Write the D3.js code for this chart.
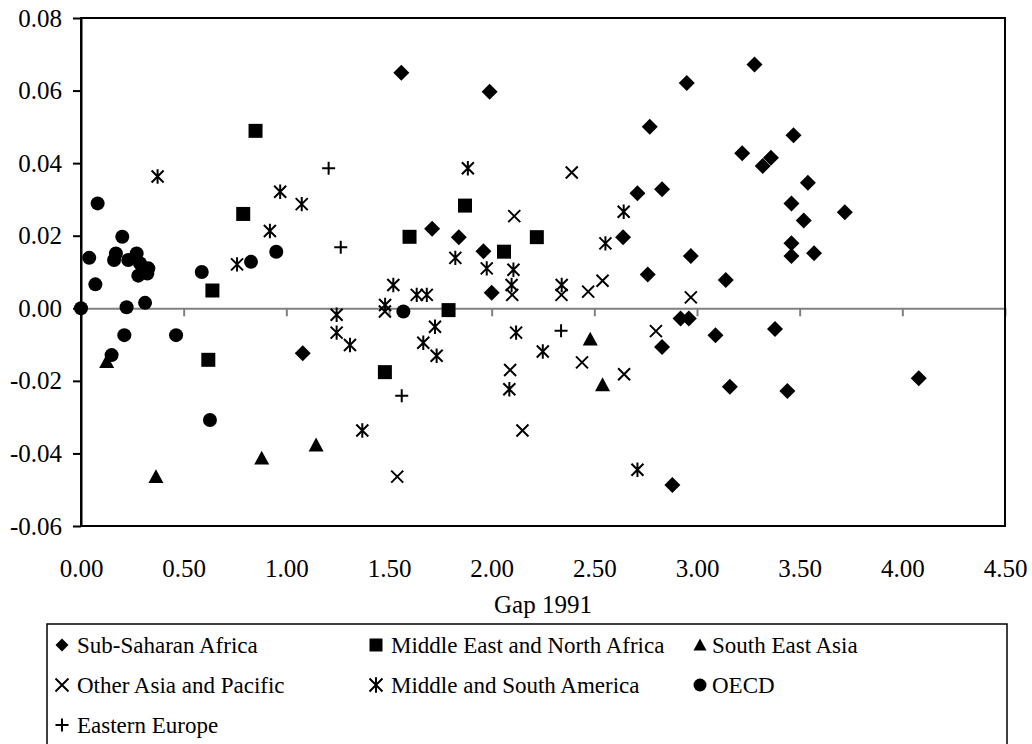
<!DOCTYPE html>
<html>
<head>
<meta charset="utf-8">
<script src="https://cdn.jsdelivr.net/npm/d3@7"></script>
<style>
  body { margin: 0; background: #fff; }
  svg { display: block; }
  text { font-family: "Liberation Serif", "Times New Roman", serif; fill: #000; }
</style>
</head>
<body>
<svg id="chart" width="1032" height="744"></svg>
<script>
// ---- data: [gap 1991, growth] ----
var subSaharanAfrica = [
  [1.56, 0.0649], [1.99, 0.0597], [2.71, 0.0317], [1.71, 0.0219], [1.84, 0.0196],
  [1.96, 0.0157], [2.64, 0.0196], [2.00, 0.0043], [3.28, 0.0672], [2.95, 0.0621],
  [2.77, 0.0500], [3.47, 0.0477], [3.22, 0.0427], [3.36, 0.0415], [3.32, 0.0392],
  [3.54, 0.0346], [2.83, 0.0328], [3.46, 0.0289], [3.72, 0.0265], [3.52, 0.0242],
  [3.46, 0.0179], [3.46, 0.0144], [3.57, 0.0152], [2.97, 0.0144], [2.76, 0.0093],
  [3.14, 0.0078], [2.92, -0.0028], [2.96, -0.0028], [2.83, -0.0107], [3.09, -0.0074],
  [3.38, -0.0057], [3.16, -0.0216], [3.44, -0.0228], [4.08, -0.0193], [2.88, -0.0487],
  [1.08, -0.0124]
];
var middleEastNorthAfrica = [
  [0.85, 0.0489], [0.79, 0.0260], [0.64, 0.0049], [0.62, -0.0142], [1.60, 0.0197],
  [1.87, 0.0283], [2.22, 0.0196], [2.06, 0.0156], [1.79, -0.0005], [1.48, -0.0176]
];
var southEastAsia = [
  [0.125, -0.0147], [0.365, -0.0464], [0.88, -0.0413], [1.145, -0.0377],
  [2.48, -0.0085], [2.54, -0.0211]
];
var otherAsiaPacific = [
  [2.39, 0.0374], [2.11, 0.0254], [1.48, -0.0009], [2.10, 0.0037], [2.34, 0.0037],
  [2.47, 0.0046], [2.54, 0.0076], [2.44, -0.0149], [2.645, -0.0182], [2.09, -0.0170],
  [2.15, -0.0337], [1.54, -0.0464], [2.97, 0.0030], [2.80, -0.0063]
];
var middleSouthAmerica = [
  [0.373, 0.0363], [0.97, 0.0321], [1.075, 0.0287], [0.92, 0.0213], [0.76, 0.0121],
  [1.245, -0.0018], [1.245, -0.0067], [1.31, -0.0101], [1.884, 0.0386], [2.643, 0.0266],
  [1.823, 0.0139], [2.554, 0.0179], [1.976, 0.0110], [2.106, 0.0106], [1.521, 0.0064],
  [1.635, 0.0037], [1.684, 0.0037], [1.481, 0.0009], [2.097, 0.0064], [2.341, 0.0064],
  [1.724, -0.0051], [1.667, -0.0095], [1.732, -0.0131], [2.119, -0.0067], [2.249, -0.0119],
  [2.086, -0.0223], [1.37, -0.0337], [2.71, -0.0445]
];
var oecd = [
  [0.081, 0.0289], [0.040, 0.0139], [0.070, 0.0066], [0.201, 0.0197], [0.170, 0.0151],
  [0.161, 0.0133], [0.230, 0.0133], [0.271, 0.0151], [0.287, 0.0124], [0.328, 0.0110],
  [0.279, 0.0090], [0.323, 0.0096], [0.312, 0.0015], [0.000, 0.0000], [0.222, 0.0003],
  [0.211, -0.0074], [0.463, -0.0074], [0.588, 0.0100], [0.828, 0.0128], [0.951, 0.0156],
  [0.149, -0.0129], [0.628, -0.0308], [1.57, -0.0009]
];
var easternEurope = [
  [1.206, 0.0386], [1.265, 0.0168], [1.562, -0.0241], [2.338, -0.0062]
];

var seriesNames = ["Sub-Saharan Africa", "Middle East and North Africa", "South East Asia",
  "Other Asia and Pacific", "Middle and South America", "OECD", "Eastern Europe"];
var seriesData = [subSaharanAfrica, middleEastNorthAfrica, southEastAsia,
  otherAsiaPacific, middleSouthAmerica, oecd, easternEurope];
var seriesShapes = ["diamond", "square", "triangle", "x", "asterisk", "circle", "plus"];

var xTicks = [0, 0.5, 1, 1.5, 2, 2.5, 3, 3.5, 4, 4.5];
var yTicks = [-0.06, -0.04, -0.02, 0, 0.02, 0.04, 0.06, 0.08];
var xTitle = "Gap 1991";

function drawChart() {
  var svg = d3.select("#chart");
  var plotLeft = 81, plotRight = 1005, plotTop = 18, plotBottom = 526;

  var x = d3.scaleLinear().domain([0, 4.5]).range([plotLeft, plotRight]);
  var y = d3.scaleLinear().domain([-0.06, 0.08]).range([plotBottom, plotTop]);

  var fmt = function (v) { return d3.format(".2f")(v).replace("\u2212", "-"); };

  // marker glyphs, r = half size
  function markerPath(shape, r) {
    var p = d3.path();
    if (shape == "diamond") {
      p.moveTo(0, -r); p.lineTo(r, 0); p.lineTo(0, r); p.lineTo(-r, 0); p.closePath();
    } else if (shape == "square") {
      p.rect(-r, -r, 2 * r, 2 * r);
    } else if (shape == "triangle") {
      p.moveTo(0, -r); p.lineTo(r, r * 0.85); p.lineTo(-r, r * 0.85); p.closePath();
    } else if (shape == "circle") {
      p.arc(0, 0, r, 0, 2 * Math.PI);
    } else if (shape == "x") {
      p.moveTo(-r, -r); p.lineTo(r, r); p.moveTo(r, -r); p.lineTo(-r, r);
    } else if (shape == "asterisk") {
      p.moveTo(-r, -r); p.lineTo(r, r); p.moveTo(r, -r); p.lineTo(-r, r);
      p.moveTo(0, -r * 1.2); p.lineTo(0, r * 1.2);
    } else if (shape == "plus") {
      p.moveTo(-r, 0); p.lineTo(r, 0); p.moveTo(0, -r); p.lineTo(0, r);
    }
    return p.toString();
  }
  var filled = { diamond: true, square: true, triangle: true, circle: true };
  var markerR = { diamond: 8, square: 7, triangle: 7.5, circle: 7, x: 6, asterisk: 6, plus: 6.5 };

  // zero line with its tick marks
  var zeroAxis = svg.append("g")
    .attr("transform", "translate(0," + y(0) + ")")
    .call(d3.axisBottom(x).tickValues(xTicks).tickSize(8).tickSizeOuter(0).tickFormat(""));
  zeroAxis.selectAll("path, line").attr("stroke", "#808080").attr("stroke-width", 2);

  // bottom tick labels
  var xAxis = svg.append("g")
    .attr("transform", "translate(0," + plotBottom + ")")
    .call(d3.axisBottom(x).tickValues(xTicks).tickSize(0).tickPadding(33).tickFormat(fmt));
  xAxis.select(".domain").remove();
  xAxis.selectAll("text").style("font-size", "25px").attr("font-family", null);

  // left axis
  var yAxis = svg.append("g")
    .attr("transform", "translate(" + plotLeft + ",0)")
    .call(d3.axisLeft(y).tickValues(yTicks).tickSize(8).tickSizeOuter(0).tickPadding(11).tickFormat(fmt));
  yAxis.selectAll("path, line").attr("stroke", "#000").attr("stroke-width", 2);
  yAxis.selectAll("text").style("font-size", "25px").attr("font-family", null);

  // plot frame
  svg.append("rect")
    .attr("x", plotLeft).attr("y", plotTop)
    .attr("width", plotRight - plotLeft).attr("height", plotBottom - plotTop)
    .attr("fill", "none").attr("stroke", "#000").attr("stroke-width", 2);

  // points
  seriesData.forEach(function (pts, i) {
    var shape = seriesShapes[i];
    svg.append("g").classed("series", true)
      .selectAll("path")
      .data(pts)
      .enter()
      .append("path")
      .attr("transform", function (d) { return "translate(" + x(d[0]) + "," + y(d[1]) + ")"; })
      .attr("d", markerPath(shape, markerR[shape]))
      .attr("fill", filled[shape] ? "#000" : "none")
      .attr("stroke", "#000")
      .attr("stroke-width", filled[shape] ? 0 : 2);
  });

  // axis title
  svg.append("text")
    .attr("x", (plotLeft + plotRight) / 2).attr("y", 613)
    .attr("text-anchor", "middle")
    .style("font-size", "25px")
    .text(xTitle);

  // legend
  svg.append("rect")
    .attr("x", 47).attr("y", 624).attr("width", 960).attr("height", 150)
    .attr("fill", "none").attr("stroke", "#000").attr("stroke-width", 1.5);

  var colX = [62, 376, 700];
  var rowY = [645, 685, 725];
  var legendItems = svg.append("g").selectAll("g")
    .data(seriesNames)
    .enter()
    .append("g")
    .attr("transform", function (d, i) { return "translate(" + colX[i % 3] + "," + rowY[Math.floor(i / 3)] + ")"; });

  legendItems.append("path")
    .attr("d", function (d, i) { return markerPath(seriesShapes[i], 6.5); })
    .attr("fill", function (d, i) { return filled[seriesShapes[i]] ? "#000" : "none"; })
    .attr("stroke", "#000")
    .attr("stroke-width", function (d, i) { return filled[seriesShapes[i]] ? 0 : 2; });

  legendItems.append("text")
    .attr("x", function (d, i) { return i % 3 == 2 ? 12 : 15; })
    .attr("dy", "0.35em")
    .style("font-size", "23px")
    .text(function (d) { return d; });
}

drawChart();
</script>
</body>
</html>
